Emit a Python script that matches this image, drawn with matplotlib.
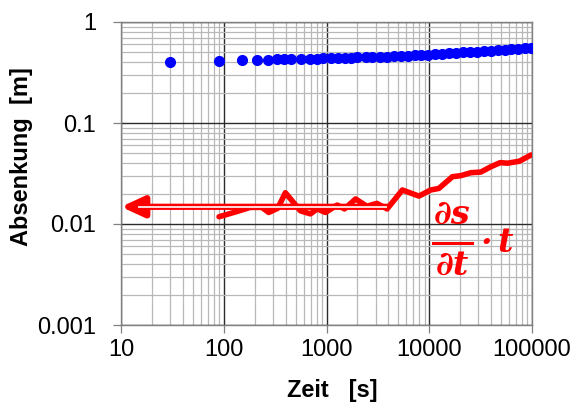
import matplotlib
matplotlib.use("Agg")
import matplotlib.pyplot as plt
from matplotlib.lines import Line2D
from matplotlib.ticker import LogLocator, FixedLocator, NullFormatter

# ---- data ----
zeit = [30, 90, 150, 210, 270, 330, 390, 450, 570, 690, 810, 930, 1100, 1300,
        1500, 1750, 2000, 2400, 2800, 3300, 3900, 4500, 5300, 6200, 7200, 8400,
        9800, 11500, 13400, 15600, 18200, 21300, 24900, 29000, 33900, 39600,
        46200, 54000, 63000, 73600, 85000, 97000]
absenkung = [0.400, 0.410, 0.417, 0.421, 0.424, 0.427, 0.429, 0.430, 0.431,
             0.432, 0.434, 0.436, 0.438, 0.440, 0.442, 0.444, 0.446, 0.449,
             0.451, 0.453, 0.455, 0.458, 0.461, 0.465, 0.469, 0.472, 0.476,
             0.480, 0.485, 0.489, 0.494, 0.499, 0.504, 0.509, 0.514, 0.519,
             0.525, 0.530, 0.535, 0.541, 0.547, 0.553]

zeit_abl = [90, 125, 181, 235, 274, 335, 398, 557, 698, 811, 977, 1270, 1497,
            1918, 2470, 3090, 3890, 5470, 7940, 10300, 12400, 16800, 20300,
            25400, 31800, 39800, 49000, 57800, 75100, 97700]
ableitung = [0.0118, 0.0130, 0.0146, 0.0146, 0.0130, 0.0143, 0.0204, 0.0135,
             0.0126, 0.0141, 0.0130, 0.0154, 0.0141, 0.0177, 0.0150, 0.0160,
             0.0141, 0.0217, 0.0189, 0.0217, 0.0225, 0.0294, 0.0301, 0.0322,
             0.0327, 0.0369, 0.0405, 0.0400, 0.0418, 0.0482]

arrow_y = 0.0148
arrow_from = 3900
arrow_to = 10

x_ticks = [10, 100, 1000, 10000, 100000]
x_labels = ["10", "100", "1000", "10000", "100000"]
y_ticks = [0.001, 0.01, 0.1, 1]
y_labels = ["0.001", "0.01", "0.1", "1"]

# ---- figure ----
W, H = 578, 403
fig = plt.figure(figsize=(W / 100, H / 100), dpi=100)
ax = fig.add_axes([121 / W, 1 - 325 / H, (532 - 121) / W, (325 - 22) / H])
ax.set_xscale("log")
ax.set_yscale("log")
ax.set_xlim(10, 100000)
ax.set_ylim(0.001, 1)

ax.xaxis.set_major_locator(FixedLocator(x_ticks))
ax.set_xticklabels(x_labels)
ax.yaxis.set_major_locator(FixedLocator(y_ticks))
ax.set_yticklabels(y_labels)
ax.xaxis.set_minor_locator(LogLocator(base=10, subs=range(2, 10), numticks=20))
ax.yaxis.set_minor_locator(LogLocator(base=10, subs=range(2, 10), numticks=20))
ax.xaxis.set_minor_formatter(NullFormatter())
ax.yaxis.set_minor_formatter(NullFormatter())

ax.grid(which="major", color="#2b2b2b", lw=1.0)
ax.grid(which="minor", color="#b8b8b8", lw=0.9)
ax.set_axisbelow(True)

tickfont = "Liberation Sans"
ax.tick_params(axis="both", which="major", direction="out", length=6,
               width=0.9, color="#808080", labelsize=17)
ax.tick_params(axis="both", which="minor", length=0)
ax.tick_params(axis="x", which="major", pad=4)
ax.tick_params(axis="y", which="major", pad=12)
for lab in ax.get_xticklabels() + ax.get_yticklabels():
    lab.set_fontfamily(tickfont)

for side in ["left", "bottom", "top", "right"]:
    ax.spines[side].set_color("#808080")
    ax.spines[side].set_linewidth(1.0)

# data
ax.plot(zeit, absenkung, "o", color="#0000ff", ms=7, mec="#0000ff", zorder=4)
ax.plot(zeit_abl, ableitung, "-", color="#ff0000", lw=4.0, zorder=4,
        solid_joinstyle="round", solid_capstyle="round")

# arrow (double line shaft)
ax.annotate("", xy=(arrow_to, arrow_y), xytext=(arrow_from, arrow_y),
            arrowprops=dict(arrowstyle="-|>,head_length=13.5,head_width=6.2",
                            mutation_scale=1, color="#ff0000", lw=4.5,
                            shrinkA=0, shrinkB=0),
            annotation_clip=False, zorder=5)
ax.plot([14.5, arrow_from], [arrow_y, arrow_y], "-", color="white", lw=1.2,
        zorder=6, solid_capstyle="butt")

# labels
ax.set_xlabel("Zeit   [s]", fontsize=17, fontweight="bold", family=tickfont)
ax.set_ylabel("Absenkung  [m]", fontsize=17, fontweight="bold", family=tickfont)
ax.xaxis.label.set_va("center")
ax.yaxis.label.set_va("center")
ax.xaxis.set_label_coords(0.5146, -0.215)
ax.yaxis.set_label_coords(-0.2416, 0.556)

# formula
def fx(px):
    return px / W

def fy(py):
    return 1 - py / H

red = "#ff0000"
fkw = dict(color=red, fontsize=24, fontweight="bold", fontstyle="italic",
           family="DejaVu Serif", ha="center", va="center")
fig.text(fx(452.5), fy(214), "∂s", **fkw)
fig.text(fx(452.5), fy(265), "∂t", **fkw)
fig.add_artist(Line2D([fx(433), fx(472)], [fy(243), fy(243)], color=red,
                      lw=2.2, transform=fig.transFigure))
fig.text(fx(486), fy(243), "·", **fkw)
fig.text(fx(505), fy(243), "t", **fkw)

fig.savefig("out.png", dpi=100)
